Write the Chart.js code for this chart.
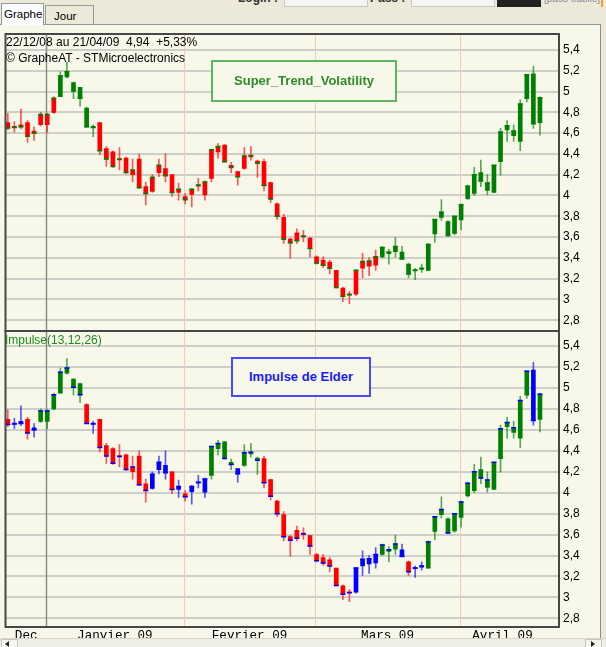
<!DOCTYPE html>
<html>
<head>
<meta charset="utf-8">
<script src="https://cdn.jsdelivr.net/npm/chart.js@4.4.1/dist/chart.umd.min.js"></script>
<style>
html, body { margin: 0; padding: 0; }
body { width: 606px; height: 647px; overflow: hidden; background: #ece9d8; position: relative;
       font-family: "Liberation Sans", Arial, sans-serif; }
.abs { position: absolute; }
#panel { left: 0; top: 24px; width: 601px; height: 614px; background: #f8f8ea;
         border-top: 1px solid #919b9c; border-right: 1px solid #8f8f8f; box-sizing: border-box; }
.tab { background: #ece9d8; border: 1px solid #919b9c; border-bottom: none; font-size: 11.5px; box-sizing: border-box; white-space: nowrap; }
canvas { position: absolute; left: 0; }
.box { font-weight: bold; font-size: 13px; text-align: center; box-sizing: border-box; background: #f8f8ea; }
</style>
</head>
<body>
<!-- top strip, cut off by the window -->
<div class="abs" style="left:238px;top:-9px;font-size:12px;font-weight:bold;color:#333">Login :</div>
<div class="abs" style="left:284px;top:-10px;width:82px;height:15px;border:1px solid #c8c8c8;background:#f4f4f4"></div>
<div class="abs" style="left:370px;top:-9px;font-size:12px;font-weight:bold;color:#333">Pass :</div>
<div class="abs" style="left:411px;top:-10px;width:82px;height:15px;border:1px solid #c8c8c8;background:#f4f4f4"></div>
<div class="abs" style="left:497px;top:-8px;width:44px;height:15px;background:#222"></div>
<div class="abs" style="left:544px;top:-7px;font-size:10px;color:#8a8a9a">[pass oublié]</div>
<div class="abs" style="left:601px;top:0;width:2px;height:7px;background:#f0a030"></div>

<div id="panel" class="abs"></div>
<div class="abs tab" style="left:1px;top:3px;width:43px;height:22px;background:#fcfcfe;padding:4px 0 0 2px">Graphe</div>
<div class="abs tab" style="left:45px;top:5px;width:49px;height:19px;padding:4px 0 0 8px">Jour</div>

<canvas id="top" width="606" height="321" style="top:22px"></canvas>
<canvas id="bottom" width="606" height="326" style="top:319px"></canvas>

<div class="abs" style="left:6px;top:35px;font-size:12px;color:#000;white-space:pre">22/12/08 au 21/04/09  4,94  +5,33%</div>
<div class="abs" style="left:6px;top:51px;font-size:12px;color:#000">© GrapheAT - STMicroelectronics</div>
<div class="abs box" style="left:211px;top:60px;width:186px;height:42px;border:2px solid #5cb85c;color:#2e8b2e;line-height:38px">Super_Trend_Volatility</div>
<div class="abs" style="left:5px;top:333px;font-size:12px;color:#1a8a1a">Impulse(13,12,26)</div>
<div class="abs box" style="left:231px;top:357px;width:140px;height:40px;border:2px solid #4a4aff;color:#1a1aff;line-height:36px">Impulse de Elder</div>

<!-- scroll bar -->
<div class="abs" style="left:0;top:638px;width:606px;height:9px;background:#efeee6;border-top:1px solid #d8d6cc"></div>
<div class="abs" style="left:1px;top:639px;width:15px;height:8px;background:#f6f5ef;border:1px solid #c9c7bb"></div>
<div class="abs" style="left:5px;top:641px;width:0;height:0;border-top:3px solid transparent;border-bottom:3px solid transparent;border-right:4px solid #222"></div>
<div class="abs" style="left:585px;top:639px;width:15px;height:8px;background:#f6f5ef;border:1px solid #c9c7bb"></div>
<div class="abs" style="left:591px;top:641px;width:0;height:0;border-top:3px solid transparent;border-bottom:3px solid transparent;border-left:4px solid #222"></div>

<script>
// STMicroelectronics, 22/12/08 -> 21/04/09, one candle per trading day
const months = ['Dec', 'Janvier 09', 'Fevrier 09', 'Mars 09', 'Avril 09'];
const monthStart = [0, 6, 27, 47, 69];

const open = [4.70, 4.66, 4.68, 4.70, 4.62, 4.68, 4.68, 4.80, 4.95, 5.14,
  5.085, 5.04, 4.84, 4.66, 4.70, 4.45, 4.42, 4.355, 4.36, 4.20,
  4.35, 4.085, 4.04, 4.22, 4.26, 4.20, 4.03, 3.99, 4.01, 4.09,
  4.005, 4.165, 4.42, 4.485, 4.29, 4.23, 4.26, 4.37, 4.33, 4.325,
  4.125, 3.92, 3.79, 3.58, 3.64, 3.61, 3.59, 3.41, 3.38, 3.36,
  3.28, 3.11, 3.05, 3.05, 3.30, 3.32, 3.33, 3.41, 3.44, 3.46,
  3.455, 3.34, 3.275, 3.29, 3.28, 3.63, 3.79, 3.75, 3.635, 3.765,
  3.97, 4.02, 4.22, 4.05, 4.03, 4.325, 4.63, 4.575, 4.52, 4.93,
  5.17, 4.70];
const high = [4.79, 4.71, 4.83, 4.72, 4.66, 4.80, 4.79, 4.95, 5.19, 5.28,
  5.09, 5.04, 4.85, 4.68, 4.70, 4.47, 4.43, 4.46, 4.37, 4.35,
  4.40, 4.13, 4.20, 4.35, 4.40, 4.20, 4.12, 4.02, 4.07, 4.165,
  4.14, 4.44, 4.50, 4.49, 4.32, 4.23, 4.46, 4.47, 4.34, 4.35,
  4.13, 3.93, 3.82, 3.59, 3.68, 3.665, 3.595, 3.42, 3.41, 3.38,
  3.28, 3.12, 3.075, 3.285, 3.445, 3.40, 3.475, 3.51, 3.485, 3.595,
  3.51, 3.35, 3.30, 3.34, 3.54, 3.77, 3.96, 3.76, 3.80, 3.92,
  4.10, 4.27, 4.34, 4.20, 4.29, 4.645, 4.72, 4.68, 4.92, 5.16,
  5.245, 4.95];
const low = [4.63, 4.61, 4.64, 4.51, 4.53, 4.67, 4.61, 4.79, 4.95, 5.13,
  4.93, 4.86, 4.66, 4.565, 4.39, 4.28, 4.27, 4.245, 4.21, 4.13,
  4.07, 3.91, 4.03, 4.18, 4.13, 3.99, 3.955, 3.92, 3.89, 4.045,
  3.955, 4.13, 4.36, 4.32, 4.22, 4.10, 4.25, 4.34, 4.175, 4.045,
  3.93, 3.77, 3.54, 3.395, 3.54, 3.555, 3.41, 3.34, 3.305, 3.245,
  3.11, 2.98, 2.96, 3.04, 3.21, 3.23, 3.28, 3.40, 3.34, 3.41,
  3.39, 3.21, 3.19, 3.26, 3.28, 3.55, 3.76, 3.61, 3.62, 3.67,
  3.96, 4.00, 4.085, 4.005, 4.03, 4.195, 4.52, 4.52, 4.43, 4.90,
  4.645, 4.58];
const close = [4.65, 4.655, 4.66, 4.57, 4.60, 4.78, 4.78, 4.935, 5.15, 5.19,
  5.005, 4.935, 4.66, 4.655, 4.43, 4.35, 4.28, 4.345, 4.22, 4.245,
  4.075, 4.02, 4.175, 4.29, 4.19, 4.03, 4.06, 3.96, 4.06, 4.10,
  4.13, 4.44, 4.47, 4.325, 4.27, 4.18, 4.38, 4.385, 4.31, 4.095,
  3.966, 3.80, 3.58, 3.545, 3.565, 3.605, 3.49, 3.35, 3.33, 3.30,
  3.115, 3.03, 3.045, 3.28, 3.365, 3.37, 3.41, 3.50, 3.455, 3.51,
  3.39, 3.245, 3.28, 3.30, 3.53, 3.77, 3.84, 3.615, 3.80, 3.91,
  4.09, 4.20, 4.14, 4.12, 4.29, 4.61, 4.67, 4.62, 4.88, 5.16,
  4.69, 4.94];

// candle colours, ten days per chunk: r = red, g = green, b = blue
const trendColor = ['rrrrrrrrgg', 'ggggrrrrrr', 'rrrrrrrrrr', 'rrrrrrrrrr', 'rrrrrrrrrr',
  'rrrrrrrggg', 'gggggggggg', 'gggggggggg', 'gg'].join('');
const impulseColor = ['rbbrbggggg', 'ggrbrrrrrr', 'rrbbbrbrbb', 'bggggbgggr', 'rrrrrrrrrr',
  'rrrbbbbggg', 'brbbgggggg', 'gggggggggg', 'bg'].join('');

const yTicks = [2.8, 3, 3.2, 3.4, 3.6, 3.8, 4, 4.2, 4.4, 4.6, 4.8, 5, 5.2, 5.4];
const yTickLabels = ['2,8', '3', '3,2', '3,4', '3,6', '3,8', '4', '4,2', '4,4', '4,6', '4,8', '5', '5,2', '5,4'];

const bodyCol = { r: '#ff0000', g: '#008000', b: '#0000ff' };
const wickCol = { r: 'rgba(255,0,0,0.65)', g: 'rgba(0,128,0,0.65)', b: 'rgba(0,0,255,0.65)' };

const idx = close.map((_, i) => i);
const monthCenter = monthStart.map((s, k) => {
  const end = k < monthStart.length - 1 ? monthStart[k + 1] - 1 : close.length - 1;
  return (s + end) / 2 + 0.3;
});

const frameAndMonths = {
  id: 'frameAndMonths',
  beforeDatasetsDraw(chart) {
    const { ctx, chartArea: a, scales: { x } } = chart;
    ctx.save();
    monthStart.slice(1).forEach((s, k) => {
      const px = Math.round(x.getPixelForValue(s - 0.2)) + 0.5;
      ctx.strokeStyle = k === 0 ? '#8c8c8c' : '#f7c9b4';
      ctx.lineWidth = k === 0 ? 1.5 : 1;
      ctx.beginPath();
      ctx.moveTo(px, a.top);
      ctx.lineTo(px, a.bottom);
      ctx.stroke();
    });
    ctx.restore();
  },
  afterDraw(chart) {
    const { ctx, chartArea: a } = chart;
    ctx.save();
    ctx.strokeStyle = '#474747';
    ctx.lineWidth = 2;
    ctx.strokeRect(a.left, a.top, a.right - a.left, a.bottom - a.top);
    ctx.restore();
  }
};

function panel(canvasId, colors, markColor, yMin, yMax, showX) {
  return new Chart(document.getElementById(canvasId), {
    type: 'bar',
    data: {
      datasets: [
        {
          label: 'wick',
          data: idx.map(i => ({ x: i, y: [low[i], high[i]] })),
          backgroundColor: idx.map(i => wickCol[colors[i]]),
          barThickness: 1,
          grouped: false,
          order: 3
        },
        {
          label: 'body',
          data: idx.map(i => ({ x: i, y: [open[i], close[i]] })),
          backgroundColor: idx.map(i => bodyCol[colors[i]]),
          barThickness: 4,
          minBarLength: 1,
          grouped: false,
          order: 2
        },
        {
          type: 'line',
          label: 'close',
          data: idx.map(i => ({ x: i, y: close[i] })),
          showLine: false,
          pointStyle: 'line',
          pointRadius: 2.5,
          pointBorderWidth: 1.5,
          pointBorderColor: markColor,
          order: 1
        }
      ]
    },
    options: {
      responsive: false,
      animation: false,
      events: [],
      layout: { padding: { left: 3, top: 12, bottom: showX ? 0 : 12, right: 0 } },
      plugins: { legend: { display: false }, tooltip: { enabled: false } },
      scales: {
        x: {
          type: 'linear',
          offset: false,
          min: -0.35,
          max: 83.9,
          display: showX,
          grid: { display: false, drawTicks: false, tickLength: 0 },
          border: { display: false },
          afterBuildTicks: s => { s.ticks = monthCenter.map(v => ({ value: v })); },
          afterFit: s => { if (showX) s.height = 18; },
          ticks: {
            autoSkip: false,
            maxRotation: 0,
            padding: 1,
            color: '#000',
            font: { family: '"Liberation Mono", monospace', size: 12.6 },
            callback: (v, i) => months[i]
          }
        },
        y: {
          position: 'right',
          min: yMin,
          max: yMax,
          afterBuildTicks: s => { s.ticks = yTicks.map(v => ({ value: v })); },
          afterFit: s => { s.width = 47; },
          grid: { color: '#cfcfca', lineWidth: 2, drawTicks: false },
          border: { display: false },
          ticks: {
            padding: 4,
            color: '#000',
            font: { family: '"Liberation Sans", Arial, sans-serif', size: 12 },
            callback: (v, i) => yTickLabels[i]
          }
        }
      }
    },
    plugins: [frameAndMonths]
  });
}

panel('top', trendColor, '#008000', 2.697, 5.553, false);
panel('bottom', impulseColor, '#0000ff', 2.718, 5.543, true);
</script>
</body>
</html>
